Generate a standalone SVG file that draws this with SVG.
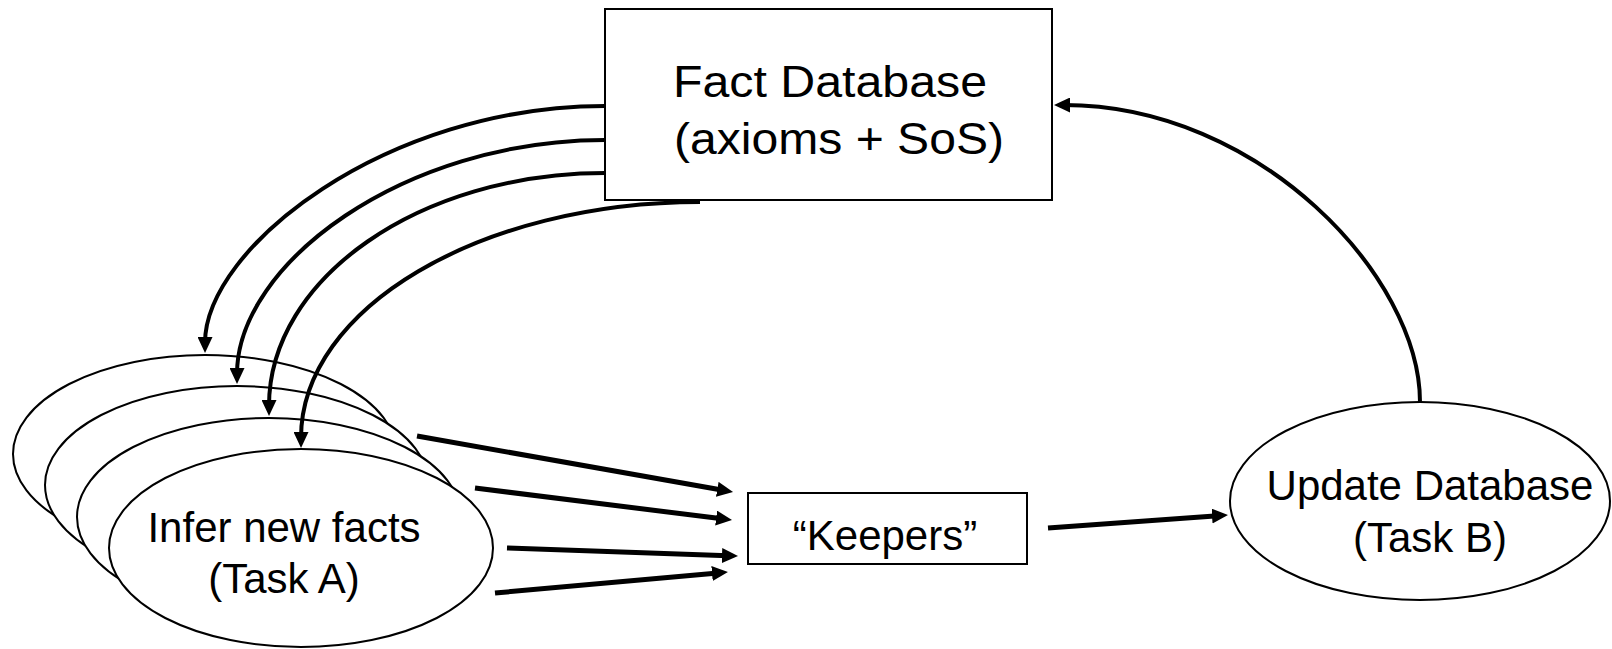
<svg xmlns="http://www.w3.org/2000/svg" width="1612" height="649" viewBox="0 0 1612 649">
<style>
.shape{fill:#fff;stroke:#000;stroke-width:2}
.lbl{font-family:"Liberation Sans",Arial,sans-serif;font-size:42px;fill:#000}
.mid{text-anchor:middle}
.conn{fill:none;stroke:#000}
.curve{stroke-width:4}
.straight{stroke-width:5}
</style>
<defs>
<marker id="ah" markerUnits="userSpaceOnUse" viewBox="0 0 16 15" markerWidth="16" markerHeight="15" refX="6" refY="7.5" orient="auto">
<path d="M0,0 L16,7.5 L0,15 z" fill="#000"/>
</marker>
</defs>
<rect width="1612" height="649" fill="#fff"/>
<g id="fact-db">
<rect class="shape" x="605" y="9" width="447" height="191"/>
<text class="lbl" x="673" y="97" style="font-size:44px" textLength="314" lengthAdjust="spacingAndGlyphs">Fact Database</text>
<text class="lbl" x="674" y="154" style="font-size:44px" textLength="330" lengthAdjust="spacingAndGlyphs">(axioms + SoS)</text>
</g>
<g id="task-a">
<ellipse class="shape" cx="205" cy="454" rx="192" ry="99"/>
<ellipse class="shape" cx="237" cy="485" rx="192" ry="99"/>
<ellipse class="shape" cx="269" cy="517" rx="192" ry="99"/>
<ellipse class="shape" cx="301" cy="548" rx="192" ry="99"/>
<text class="lbl mid" x="284" y="542">Infer new facts</text>
<text class="lbl mid" x="284" y="593">(Task A)</text>
</g>
<g id="keepers">
<rect class="shape" x="748" y="493" width="279" height="71"/>
<text class="lbl mid" x="885" y="550">“Keepers”</text>
</g>
<g id="task-b">
<ellipse class="shape" cx="1420" cy="501" rx="190" ry="99"/>
<text class="lbl mid" x="1430" y="500">Update Database</text>
<text class="lbl mid" x="1430" y="552">(Task B)</text>
</g>
<g id="connectors" marker-end="url(#ah)">
<path class="conn curve" d="M605,106 C385,106 205,248 205,343"/>
<path class="conn curve" d="M605,140 C403,140 237,264 237,374"/>
<path class="conn curve" d="M605,173 C420,173 269,278 269,406"/>
<path class="conn curve" d="M700,202 C481,202 301,308 301,438"/>
<path class="conn straight" d="M417,436 L723.2,490.3"/>
<path class="conn straight" d="M475,488 L722.1,518.8"/>
<path class="conn straight" d="M507,548 L728,555.7"/>
<path class="conn straight" d="M495,593 L718,572.9"/>
<path class="conn straight" d="M1048,528 L1218,515.7"/>
<path class="conn curve" d="M1420,402 C1420,277 1260,105 1064,105"/>
</g>
</svg>
